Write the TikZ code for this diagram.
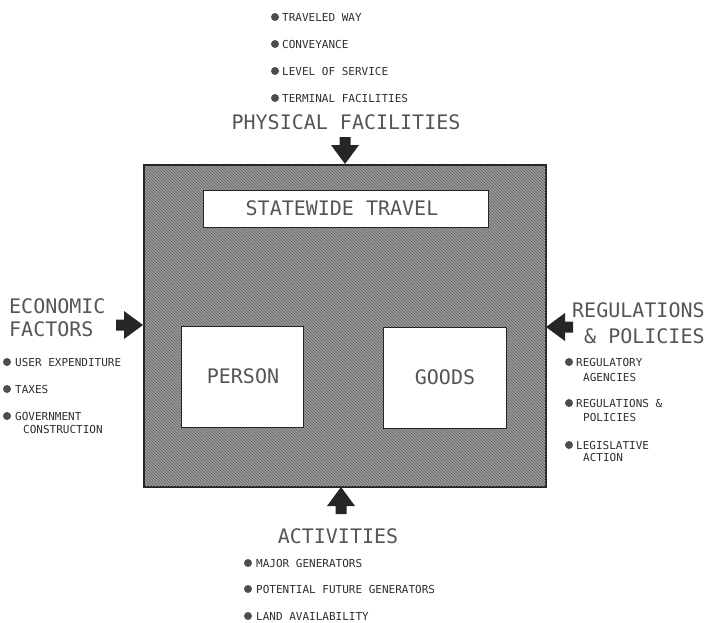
\documentclass[tikz,border=0pt]{standalone}
\usepackage{fontspec}
\newfontfamily\mono{DejaVu Sans Mono}
\usetikzlibrary{patterns}
\definecolor{txt}{HTML}{2E2E2E}
\definecolor{ttl}{HTML}{555555}
\definecolor{hatchbg}{HTML}{9C9C9C}
\definecolor{hatchln}{HTML}{606060}
\tikzset{
  small/.style={inner sep=0pt, anchor=base west, text=txt, font=\mono\fontsize{11}{13}\selectfont},
  title/.style={inner sep=0pt, text=ttl, font=\mono\fontsize{20}{24}\selectfont},
  dot/.style={fill=txt!85, draw=none, circle, minimum size=8pt, inner sep=0pt},
  whitebox/.style={draw=black!85, line width=1.4pt, fill=white},
  pics/blockarrow/.style={code={
    \fill[black!85] (0,0) -- (-19,14) -- (-19,5.5) -- (-27,5.5) -- (-27,-5.5) -- (-19,-5.5) -- (-19,-14) -- cycle;}}
}
\begin{document}
\begin{tikzpicture}[x=1pt,y=-1pt]
\useasboundingbox (0,0) rectangle (705,622);
% main hatched box
\node[draw=black!85, line width=1.4pt, fill=hatchbg, minimum width=401pt, minimum height=321pt, inner sep=0pt, anchor=north west] (main) at (144,165) {};
\fill[pattern=north west lines, pattern color=hatchln] (main.south west) rectangle (main.north east);
\draw[black!85, line width=1.4pt] (main.south west) rectangle (main.north east);
% inner boxes
\node[whitebox, anchor=north west, minimum width=285pt, minimum height=37pt, inner sep=0pt] (state) at (203,190) {};
\node[title, anchor=base] (stateT) at (342,215) {STATEWIDE TRAVEL};
\node[whitebox, anchor=north west, minimum width=122pt, minimum height=101pt, inner sep=0pt] (person) at (181,326) {};
\node[title, anchor=base] (personT) at (243,383) {PERSON};
\node[whitebox, anchor=north west, minimum width=123pt, minimum height=101pt, inner sep=0pt] (goods) at (383,327) {};
\node[title, anchor=base] (goodsT) at (445,384) {GOODS};
% block arrows
\pic[rotate=-90] at (345,164) {blockarrow};
\pic at (143,325) {blockarrow};
\pic[rotate=180] at (546,327) {blockarrow};
\pic[rotate=90] at (341,487) {blockarrow};
% titles
\node[title, anchor=base] (phys) at (346,129) {PHYSICAL FACILITIES};
\node[title, anchor=base west] (econ1) at (9,313) {ECONOMIC};
\node[title, anchor=base west] (econ2) at (9,336) {FACTORS};
\node[title, anchor=base west] (reg1) at (572,317) {REGULATIONS};
\node[title, anchor=base west] (reg2) at (584,343) {\& POLICIES};
\node[title, anchor=base] (act) at (338,543) {ACTIVITIES};
% top list
\node[dot] (d1) at (275,17) {}; \node[small] (t1) at (282,21) {TRAVELED WAY};
\node[dot] (d2) at (275,44) {}; \node[small] (t2) at (282,48) {CONVEYANCE};
\node[dot] (d3) at (275,71) {}; \node[small] (t3) at (282,75) {LEVEL OF SERVICE};
\node[dot] (d4) at (275,98) {}; \node[small] (t4) at (282,102) {TERMINAL FACILITIES};
% left list
\node[dot] (l1) at (7,362) {}; \node[small] (lt1) at (15,366) {USER EXPENDITURE};
\node[dot] (l2) at (7,389) {}; \node[small] (lt2) at (15,393) {TAXES};
\node[dot] (l3) at (7,416) {}; \node[small] (lt3) at (15,420) {GOVERNMENT};
\node[small] (lt4) at (23,433) {CONSTRUCTION};
% right list
\node[dot] (r1) at (569,362) {}; \node[small] (rt1) at (576,366) {REGULATORY};
\node[small] (rt1b) at (583,381) {AGENCIES};
\node[dot] (r2) at (569,403) {}; \node[small] (rt2) at (576,407) {REGULATIONS \&};
\node[small] (rt2b) at (583,421) {POLICIES};
\node[dot] (r3) at (569,445) {}; \node[small] (rt3) at (576,449) {LEGISLATIVE};
\node[small] (rt3b) at (583,461) {ACTION};
% bottom list
\node[dot] (b1) at (248,563) {}; \node[small] (bt1) at (256,567) {MAJOR GENERATORS};
\node[dot] (b2) at (248,589) {}; \node[small] (bt2) at (256,593) {POTENTIAL FUTURE GENERATORS};
\node[dot] (b3) at (248,616) {}; \node[small] (bt3) at (256,620) {LAND AVAILABILITY};
\end{tikzpicture}
\end{document}
